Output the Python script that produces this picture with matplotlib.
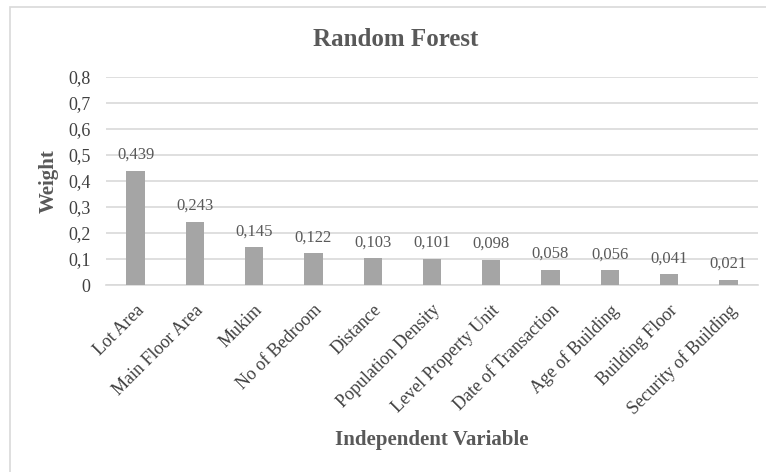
import matplotlib
matplotlib.use("Agg")
import matplotlib.pyplot as plt
from matplotlib.patches import Rectangle

categories = ["Lot Area", "Main Floor Area", "Mukim", "No of Bedroom", "Distance",
              "Population Density", "Level Property Unit", "Date of Transaction",
              "Age of Building", "Building Floor", "Security of Building"]
weights = [0.439, 0.243, 0.145, 0.122, 0.103, 0.101, 0.098, 0.058, 0.056, 0.041, 0.021]
yticks = [0, 0.1, 0.2, 0.3, 0.4, 0.5, 0.6, 0.7, 0.8]

plt.rcParams["font.family"] = ["Liberation Serif", "DejaVu Serif"]
label_color = "#595959"
tick_color = "#404040"

fig = plt.figure(figsize=(7.66, 4.72), dpi=100)
ax = fig.add_axes([106 / 766, 1 - 285 / 472, (758 - 106) / 766, (285 - 77) / 472])

# chart frame
fig.patches.append(Rectangle((10 / 766, -0.1), 1.1, 1 - 7 / 472 + 0.1, transform=fig.transFigure,
                             fill=False, edgecolor="#D9D9D9", linewidth=1.2))

x = list(range(len(categories)))
ax.bar(x, weights, width=0.31, color="#A5A5A5", zorder=3)
for xi, w in zip(x, weights):
    ax.annotate(f"{w:.3f}".replace(".", ","), (xi, w), xytext=(0, 8.5),
                textcoords="offset points", ha="center", va="baseline",
                fontsize=12, color=label_color)

ax.set_xlim(-0.5, len(categories) - 0.5)
ax.set_ylim(0, 0.8)
ax.set_yticks(yticks)
ax.set_yticklabels(["0" if t == 0 else f"{t:.1f}".replace(".", ",") for t in yticks],
                   fontsize=13, color=tick_color)
ax.yaxis.grid(True, color="#D9D9D9", linewidth=1.2, zorder=0)
ax.set_xticks(x)
ax.set_xticklabels(categories, rotation=45, ha="right", rotation_mode="anchor",
                   fontsize=13, color=tick_color)
ax.tick_params(axis="both", length=0)
ax.tick_params(axis="x", pad=12)
ax.tick_params(axis="y", pad=11)
for s in ["top", "right", "left"]:
    ax.spines[s].set_visible(False)
ax.spines["bottom"].set_color("#D9D9D9")
ax.spines["bottom"].set_linewidth(1.2)

fig.text(395.5 / 766, 1 - 39 / 472, "Random Forest", ha="center", va="center",
         fontsize=18, fontweight="bold", color=label_color)
fig.text(49 / 766, 1 - 181 / 472, "Weight", ha="center", va="center", rotation=90,
         fontsize=15, fontweight="bold", color=label_color)
fig.text(432 / 766, 1 - 440 / 472, "Independent Variable", ha="center", va="center",
         fontsize=15, fontweight="bold", color=label_color)

fig.savefig("out.png", dpi=100, facecolor="white")
